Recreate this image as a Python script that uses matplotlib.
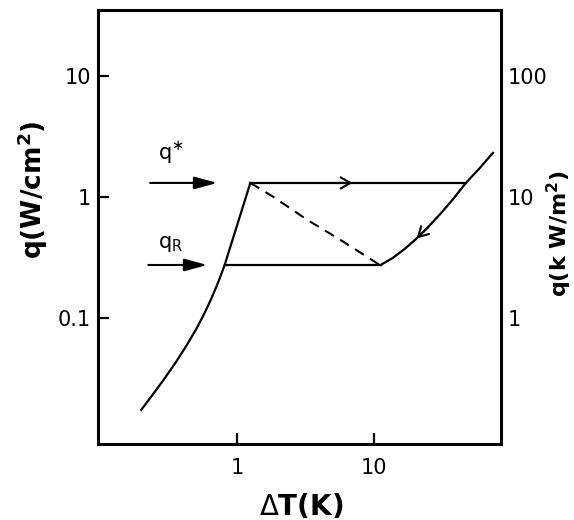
import matplotlib
matplotlib.use("Agg")
import matplotlib.pyplot as plt

# ---- data ----
nucleate_dT = [0.197, 0.241, 0.294, 0.355, 0.422, 0.495, 0.571, 0.647, 0.725, 0.807, 1.246]
nucleate_q = [0.0174, 0.0235, 0.0319, 0.0433, 0.0587, 0.0796, 0.108, 0.146, 0.198, 0.274, 1.305]

film_dT = [11.25, 13.8, 16.9, 20.7, 25.4, 31.1, 38.1, 47.5, 59.2, 75.0]
film_q = [0.274, 0.313, 0.372, 0.454, 0.571, 0.731, 0.953, 1.305, 1.70, 2.31]

transition_dT = [1.246, 1.84, 3.27, 5.72, 11.1]
transition_q = [1.305, 1.0, 0.645, 0.441, 0.274]

q_star = 1.305
q_R = 0.274
q_star_span = [1.246, 47.5]
q_R_span = [0.807, 11.25]

x_ticks = [1, 10]
x_ticklabels = ["1", "10"]
y_ticks = [0.1, 1, 10]
y_ticklabels = ["0.1", "1", "10"]
y2_ticks = [1, 10, 100]
y2_ticklabels = ["1", "10", "100"]

xlim = (0.095, 86)
ylim = (0.0091, 35)

# ---- figure ----
plt.rcParams['font.family'] = ['DejaVu Sans']
plt.rcParams['mathtext.fontset'] = 'dejavusans'
fig = plt.figure(figsize=(5.74, 5.20), dpi=100)
ax = fig.add_axes([98/574, 1-444/520, (501-98)/574, (444-10)/520])
ax.set_xscale('log')
ax.set_yscale('log')
ax.set_xlim(*xlim)
ax.set_ylim(*ylim)

lw = 1.6
ax.plot(nucleate_dT, nucleate_q, color='black', lw=lw, solid_joinstyle='round')
ax.plot(film_dT, film_q, color='black', lw=lw, solid_joinstyle='round')
ax.plot(q_star_span, [q_star, q_star], color='black', lw=lw)
ax.plot(q_R_span, [q_R, q_R], color='black', lw=lw)
ax.plot(transition_dT, transition_q, color='black', lw=1.5, ls=(0, (5, 3.5)))

# open chevrons along the path
chev = dict(arrowstyle='->,head_length=0.7,head_width=0.4', lw=1.5, color='black',
            shrinkA=0, shrinkB=0)
ax.annotate('', xy=(7.0, q_star), xytext=(5.5, q_star), arrowprops=chev)
ax.annotate('', xy=(20.7, 0.454), xytext=(25.4, 0.571), arrowprops=chev)

# filled arrows pointing at q* and q_R
fill = dict(arrowstyle='-|>,head_length=1.4,head_width=0.38', lw=1.5,
            color='black', shrinkA=0, shrinkB=0)
ax.annotate('', xy=(0.713, q_star), xytext=(0.229, q_star), arrowprops=fill)
ax.annotate('', xy=(0.602, q_R), xytext=(0.222, q_R), arrowprops=fill)
ax.text(0.262, 2.3, r'q$^{\ast}$', fontsize=15, ha='left', va='center')
ax.text(0.262, 0.41, r'q$_{\mathrm{R}}$', fontsize=15, ha='left', va='center')

# axes styling
for s in ax.spines.values():
    s.set_linewidth(2.2)
ax.set_xticks(x_ticks)
ax.set_xticklabels(x_ticklabels)
ax.set_yticks(y_ticks)
ax.set_yticklabels(y_ticklabels)
ax.minorticks_off()
ax.tick_params(axis='both', which='major', direction='in', length=8, width=1.6,
               labelsize=15)
ax.tick_params(axis='x', pad=10)
ax.tick_params(axis='y', pad=5)

ax.set_xlabel(r'$\Delta$T(K)', fontsize=20, fontweight='bold')
ax.xaxis.set_label_coords(0.504, -0.1636)
ax.xaxis.label.set_verticalalignment('baseline')
ax.set_ylabel(r'q(W/cm$^{\mathbf{2}}$)', fontsize=19, fontweight='bold')
ax.yaxis.set_label_coords(-0.119, 0.585)

ax2 = ax.twinx()
ax2.set_yscale('log')
ax2.set_ylim(ylim[0]*10, ylim[1]*10)
ax2.set_yticks(y2_ticks)
ax2.set_yticklabels(y2_ticklabels)
ax2.minorticks_off()
ax2.tick_params(axis='y', length=0, labelsize=15, pad=5)
for s in ax2.spines.values():
    s.set_visible(False)
ax2.set_ylabel(r'q(k W/m$^{\mathbf{2}}$)', fontsize=16, fontweight='bold', rotation=90)
ax2.yaxis.set_label_coords(1.109, 0.484)

fig.savefig('out.png', dpi=100)
